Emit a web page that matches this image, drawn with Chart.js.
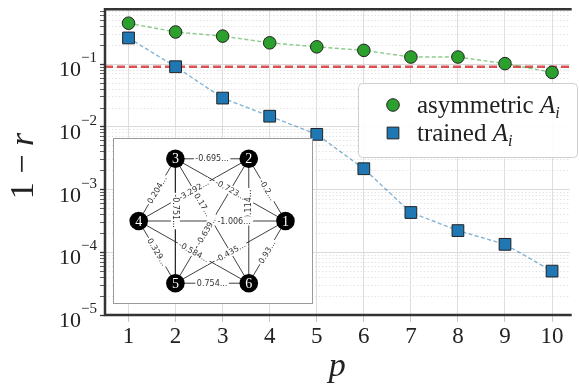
<!DOCTYPE html>
<html>
<head>
<meta charset="utf-8">
<script src="https://cdn.jsdelivr.net/npm/chart.js@4.4.1/dist/chart.umd.min.js"></script>
<style>
  html, body { margin: 0; padding: 0; background: #fff; overflow: hidden; }
  #wrap { position: relative; width: 579px; height: 386px; }
  #main { position: absolute; left: 0; top: 0; }
  #insetBox { position: absolute; left: 113px; top: 138px; width: 198px; height: 164px;
              border: 1px solid #9a9a9a; background: #fff; }
  #inset { display: block; }
</style>
</head>
<body>
<div id="wrap">
  <canvas id="main" width="579" height="386"></canvas>
  <div id="insetBox"><canvas id="inset" width="198" height="164"></canvas></div>
</div>
<script>
// main plot data
const pValues = [1, 2, 3, 4, 5, 6, 7, 8, 9, 10];
const asymmetricErr = [0.45, 0.326, 0.28, 0.219, 0.189, 0.166, 0.13, 0.13, 0.102, 0.074];
const trainedErr = [0.262, 0.091, 0.0288, 0.0148, 0.0076, 0.00215, 0.000431, 0.000222, 0.000134, 0.0000501];
const threshold = 0.0907;
const xTicks = [1, 2, 3, 4, 5, 6, 7, 8, 9, 10];
const yDecades = [-5, -4, -3, -2, -1];
const yLabelExps = ['\u22125', '\u22124', '\u22123', '\u22122', '\u22121'];
const seriesNames = ['asymmetric', 'trained'];

// inset graph data
const nodeIds = [1, 2, 3, 4, 5, 6];
const nodeX = [1, 0.5, -0.5, -1, -0.5, 0.5];
const nodeY = [0, 0.866, 0.866, 0, -0.866, -0.866];
const edgeFrom = [1, 1, 1, 1, 2, 2, 6, 3, 3, 3, 4, 4, 5, 2, 1];
const edgeTo   = [2, 3, 5, 6, 3, 4, 2, 4, 5, 6, 5, 6, 6, 5, 4];
const edgeWeights = ['-0.2...', '-0.723...', '-0.435...', '0.93...', '-0.695...', '-3.292...',
  '0.114...', '0.204...', '-0.751...', '0.17...', '0.329...', '-0.584...', '0.754...', '-0.639...', '-1.006...'];
// where along each edge its label sits (layout only)
const edgeLabelAt = [0.5, 0.5, 0.5, 0.5, 0.5, 0.5, 0.63, 0.5, 0.42, 0.37, 0.5, 0.5, 0.5, 0.575, 0.35];

const xMin = 0.5, xMax = 10.375, yMin = 1e-5, yMax = 0.75;
const SERIF = '"Liberation Serif", "DejaVu Serif", serif';
const GREEN = '#2ca02c', BLUE = '#1f77b4';

const isDecade = v => Math.abs(Math.log10(v) - Math.round(Math.log10(v))) < 1e-9;

// spines, y labels, titles, legend
const decorPlugin = {
  id: 'decor',
  afterDatasetsDraw(chart) {
    const { ctx, chartArea: a, scales: { y } } = chart;
    ctx.save();
    ctx.strokeStyle = '#333';
    ctx.lineWidth = 2.5;
    ctx.beginPath();
    ctx.moveTo(a.right + 2, a.top); ctx.lineTo(a.left, a.top);
    ctx.lineTo(a.left, a.bottom); ctx.lineTo(a.right + 2, a.bottom);
    ctx.stroke();

    // y tick labels 10^k
    ctx.fillStyle = '#222';
    ctx.textBaseline = 'alphabetic';
    ctx.textAlign = 'left';
    yDecades.forEach((d, i) => {
      const py = y.getPixelForValue(Math.pow(10, d));
      ctx.font = '15px ' + SERIF;
      const we = ctx.measureText(yLabelExps[i]).width;
      ctx.font = '22px ' + SERIF;
      const wb = ctx.measureText('10').width;
      const x0 = 97 - we - wb;
      ctx.fillText('10', x0, py + 12);
      ctx.font = '15px ' + SERIF;
      ctx.fillText(yLabelExps[i], x0 + wb, py - 2);
    });

    // y title "1 − r"
    ctx.save();
    ctx.translate(33, 166);
    ctx.rotate(-Math.PI / 2);
    ctx.font = '34px ' + SERIF;
    const w1 = ctx.measureText('1 \u2212 ').width;
    ctx.font = 'italic 34px ' + SERIF;
    const w2 = ctx.measureText('r').width;
    const sx = -(w1 + w2) / 2;
    ctx.font = '34px ' + SERIF;
    ctx.fillText('1 \u2212 ', sx, 0);
    ctx.font = 'italic 34px ' + SERIF;
    ctx.fillText('r', sx + w1, 0);
    ctx.restore();

    // x title
    ctx.font = 'italic 34px ' + SERIF;
    ctx.textAlign = 'center';
    ctx.fillText('p', (a.left + a.right) / 2, 376);
    ctx.restore();
  },
  afterDraw(chart) {
    const { ctx } = chart;
    ctx.save();
    ctx.beginPath();
    ctx.roundRect(358.5, 83.5, 219, 74, 4);
    ctx.fillStyle = 'rgba(255,255,255,0.9)';
    ctx.fill();
    ctx.strokeStyle = '#cfcfcf';
    ctx.lineWidth = 1;
    ctx.stroke();

    const rows = [105, 133];
    chart.data.datasets.slice(0, 2).forEach((ds, i) => {
      const cy = rows[i];
      ctx.fillStyle = ds.pointBackgroundColor;
      ctx.strokeStyle = ds.pointBorderColor;
      ctx.lineWidth = 1;
      ctx.beginPath();
      if (ds.pointStyle === 'circle') {
        ctx.arc(393, cy, ds.pointRadius, 0, Math.PI * 2);
      } else {
        const h = ds.pointRadius * Math.SQRT1_2;
        ctx.rect(393 - h, cy - h, 2 * h, 2 * h);
      }
      ctx.fill(); ctx.stroke();

      ctx.fillStyle = '#222';
      ctx.textAlign = 'left';
      ctx.textBaseline = 'alphabetic';
      const base = cy + 8;
      const name = seriesNames[i] + ' ';
      ctx.font = '25px ' + SERIF;
      ctx.fillText(name, 417, base);
      let x = 417 + ctx.measureText(name).width;
      ctx.font = 'italic 25px ' + SERIF;
      ctx.fillText('A', x, base);
      x += ctx.measureText('A').width;
      ctx.font = 'italic 16px ' + SERIF;
      ctx.fillText('i', x, base + 5);
    });
    ctx.restore();
  }
};

new Chart(document.getElementById('main'), {
  type: 'line',
  data: {
    datasets: [
      {
        label: 'asymmetric A_i',
        data: pValues.map((p, i) => ({ x: p, y: asymmetricErr[i] })),
        borderColor: 'rgba(44,160,44,0.55)',
        borderWidth: 1.4,
        borderDash: [4, 2.5],
        pointStyle: 'circle',
        pointRadius: 6.3,
        pointBackgroundColor: GREEN,
        pointBorderColor: '#222',
        pointBorderWidth: 1,
        order: 0
      },
      {
        label: 'trained A_i',
        data: pValues.map((p, i) => ({ x: p, y: trainedErr[i] })),
        borderColor: 'rgba(31,119,180,0.55)',
        borderWidth: 1.4,
        borderDash: [4, 2.5],
        pointStyle: 'rect',
        pointRadius: 8.3,
        pointBackgroundColor: BLUE,
        pointBorderColor: '#222',
        pointBorderWidth: 1,
        order: 1
      },
      {
        label: 'threshold',
        data: [{ x: xMin, y: threshold }, { x: xMax, y: threshold }],
        borderColor: 'rgba(214,39,40,0.8)',
        borderWidth: 2.5,
        borderDash: [8, 4],
        pointRadius: 0,
        order: 2
      }
    ]
  },
  options: {
    responsive: false,
    animation: false,
    layout: { padding: { top: 5, right: 0, bottom: 0, left: 0 } },
    plugins: { legend: { display: false }, tooltip: { enabled: false } },
    scales: {
      x: {
        type: 'linear',
        min: xMin,
        max: xMax,
        afterBuildTicks: s => { s.ticks = xTicks.map(v => ({ value: v })); },
        afterFit: s => { s.height = 71; },
        grid: { color: '#dedede', lineWidth: 1, tickLength: 7, tickColor: '#c8c8c8' },
        border: { display: false },
        ticks: { font: { family: SERIF, size: 23 }, color: '#222', padding: 1, maxRotation: 0, autoSkip: false }
      },
      y: {
        type: 'logarithmic',
        min: yMin,
        max: yMax,
        afterBuildTicks: s => {
          const t = [];
          yDecades.forEach(d => {
            for (let m = 1; m <= 9; m++) {
              const v = m * Math.pow(10, d);
              if (v <= yMax) t.push({ value: v, major: m === 1 });
            }
          });
          s.ticks = t;
        },
        afterFit: s => { s.width = 105; },
        grid: {
          color: c => (c.tick && isDecade(c.tick.value)) ? '#dadada' : '#e4e4e4',
          lineWidth: 1,
          tickLength: 5,
          tickColor: '#333',
          tickWidth: c => (c.tick && isDecade(c.tick.value)) ? 1.3 : 0.8
        },
        border: { display: false, dash: c => (c.tick && !isDecade(c.tick.value)) ? [1.5, 2] : [] },
        ticks: { display: false }
      }
    }
  },
  plugins: [decorPlugin]
});

// inset: weighted complete graph
const edgeLabelPlugin = {
  id: 'edgeLabels',
  afterDatasetsDraw(chart) {
    const { ctx, scales: { x, y } } = chart;
    ctx.save();
    ctx.font = '8px "DejaVu Sans", sans-serif';
    ctx.textAlign = 'center';
    ctx.textBaseline = 'middle';
    edgeFrom.forEach((a, i) => {
      const b = edgeTo[i];
      const x1 = x.getPixelForValue(nodeX[a - 1]), y1 = y.getPixelForValue(nodeY[a - 1]);
      const x2 = x.getPixelForValue(nodeX[b - 1]), y2 = y.getPixelForValue(nodeY[b - 1]);
      const t = edgeLabelAt[i];
      const mx = x1 + (x2 - x1) * t, my = y1 + (y2 - y1) * t;
      let ang = Math.atan2(y2 - y1, x2 - x1);
      if (ang > Math.PI / 2 + 1e-6) ang -= Math.PI;
      if (ang < -Math.PI / 2 - 1e-6) ang += Math.PI;
      ctx.save();
      ctx.translate(mx, my);
      ctx.rotate(ang);
      const w = ctx.measureText(edgeWeights[i]).width;
      ctx.fillStyle = '#fff';
      ctx.fillRect(-w / 2 - 1.5, -4.5, w + 3, 9);
      ctx.fillStyle = '#333';
      ctx.fillText(edgeWeights[i], 0, 0.5);
      ctx.restore();
    });
    // node numbers
    ctx.fillStyle = '#fff';
    ctx.font = '14px ' + SERIF;
    nodeIds.forEach((n, i) => {
      ctx.fillText(String(n), x.getPixelForValue(nodeX[i]), y.getPixelForValue(nodeY[i]) + 1);
    });
    ctx.restore();
  }
};

const edgeSets = edgeFrom.map((a, i) => ({
  data: [{ x: nodeX[a - 1], y: nodeY[a - 1] }, { x: nodeX[edgeTo[i] - 1], y: nodeY[edgeTo[i] - 1] }],
  showLine: true,
  borderColor: '#2a2a2a',
  borderWidth: 0.9,
  pointRadius: 0,
  order: 1
}));

new Chart(document.getElementById('inset'), {
  type: 'scatter',
  data: {
    datasets: [
      {
        data: nodeIds.map((n, i) => ({ x: nodeX[i], y: nodeY[i] })),
        pointRadius: 9.3,
        pointBackgroundColor: '#000',
        pointBorderColor: '#000',
        pointBorderWidth: 0,
        order: 0
      },
      ...edgeSets
    ]
  },
  options: {
    responsive: false,
    animation: false,
    layout: { padding: 0 },
    plugins: { legend: { display: false }, tooltip: { enabled: false } },
    scales: {
      x: { type: 'linear', min: -1.21, max: 1.235, display: false },
      y: { type: 'linear', min: -1.012, max: 1.012, display: false }
    }
  },
  plugins: [edgeLabelPlugin]
});
</script>
</body>
</html>
